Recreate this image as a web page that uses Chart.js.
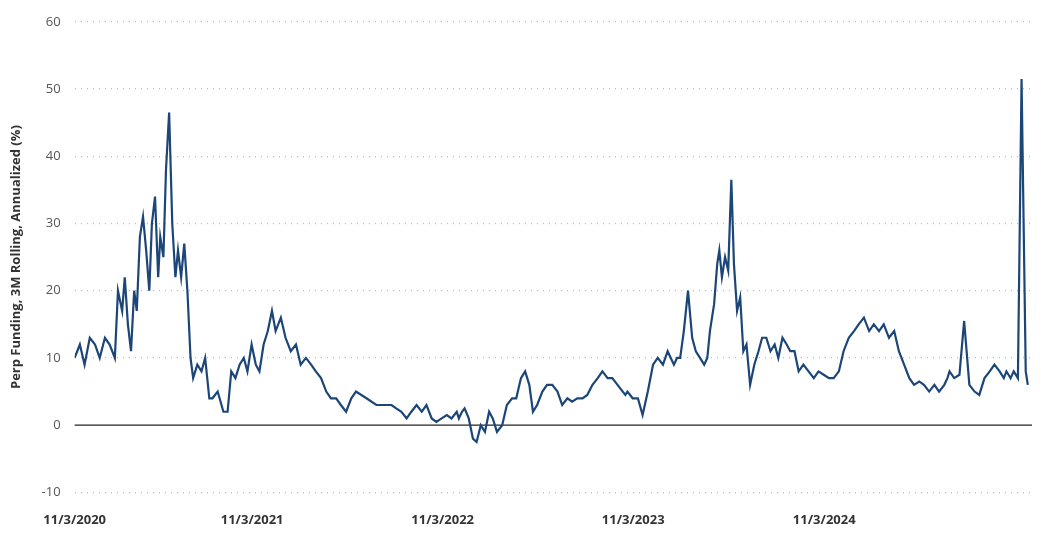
<!DOCTYPE html>
<html>
<head>
<meta charset="utf-8">
<script src="https://cdn.jsdelivr.net/npm/chart.js@4"></script>
<style>
  body { margin: 0; background: #fff; }
  #wrap { width: 1044px; height: 540px; }
</style>
</head>
<body>
<div id="wrap"><canvas id="perp"></canvas></div>
<script>
// days since 11/3/2020
const days = [25,35,44,54,64,73,83,92,102,108,116,121,127,133,139,144,150,156,162,168,173,179,185,189,195,200,206,212,218,223,229,235,241,247,252,260,268,275,283,289,299,310,318,325,333,341,349,356,364,372,379,387,395,403,410,420,429,439,449,458,468,478,487,497,507,516,526,535,545,555,564,584,603,612,622,632,641,651,661,670,680,690,699,709,718,728,738,747,757,761,767,772,780,788,795,803,811,819,826,834,844,853,863,871,874,880,888,896,903,911,921,930,940,950,959,969,978,988,998,1007,1017,1027,1036,1046,1055,1065,1075,1080,1084,1094,1104,1113,1123,1133,1142,1152,1161,1167,1173,1179,1185,1192,1200,1208,1215,1223,1231,1237,1242,1250,1256,1260,1265,1271,1277,1283,1288,1294,1300,1306,1312,1319,1327,1335,1342,1350,1358,1366,1373,1381,1389,1396,1404,1412,1421,1431,1441,1450,1460,1470,1479,1489,1498,1508,1518,1527,1537,1547,1556,1566,1575,1585,1595,1604,1614,1624,1633,1643,1652,1662,1672,1681,1691,1697,1701,1710,1720,1729,1739,1749,1758,1768,1778,1787,1797,1805,1810,1814,1818,1824,1832,1839,1847,1851];
const funding = [10,12,9,13,12,10,13,12,10,20,17,22,15,11,20,17,28,31,26,20,30,34,22,28,25,38,46.5,30,22,26,22,27,20,10,7,9,8,10,4,4,5,2,2,8,7,9,10,8,12,9,8,12,14,17,14,16,13,11,12,9,10,9,8,7,5,4,4,3,2,4,5,4,3,3,3,3,2.5,2,1,2,3,2,3,1,0.5,1,1.5,1,2,1,2,2.5,1,-2,-2.5,0,-1,2,1,-1,0,3,4,4,5,7,8,6,2,3,5,6,6,5,3,4,3.5,4,4,4.5,6,7,8,7,7,6,5,4.5,5,4,4,1.5,5,9,10,9,11,10,9,10,10,14,20,13,11,10,9,10,14,18,24,26,22,25,23,36.5,24,17,19,11,12,6,9,11,13,13,11,12,10,13,12,11,11,8,9,8,7,8,7.5,7,7,8,11,13,14,15,16,14,15,14,15,13,14,11,9,7,6,6.5,6,5,6,5,6,7,8,7,7.5,15.5,6,5,4.5,7,8,9,8,7,8,7.5,7,8,7,51.5,8,6,6.5,5,5,4];
const tickDays = [25,365,730,1095,1461];
const tickLabels = ["11/3/2020","11/3/2021","11/3/2022","11/3/2023","11/3/2024"];

const points = days.map((d, i) => ({ x: d, y: funding[i] }));

const zeroLine = {
  id: "zeroLine",
  beforeDatasetsDraw(chart) {
    const y = chart.scales.y.getPixelForValue(0);
    const a = chart.chartArea;
    const ctx = chart.ctx;
    ctx.save();
    ctx.strokeStyle = "#222";
    ctx.lineWidth = 1.2;
    ctx.beginPath();
    ctx.moveTo(a.left, y);
    ctx.lineTo(a.right, y);
    ctx.stroke();
    ctx.restore();
  }
};

new Chart("perp", {
  type: "line",
  data: {
    datasets: [{
      data: points,
      borderColor: "#1c4578",
      borderWidth: 2.2,
      pointRadius: 0,
      tension: 0
    }]
  },
  options: {
    responsive: true,
    maintainAspectRatio: false,
    animation: false,
    layout: { padding: { top: 0, right: 12, left: 4, bottom: 0 } },
    plugins: { legend: { display: false }, tooltip: { enabled: false } },
    scales: {
      x: {
        type: "linear",
        min: 25,
        max: 1859,
        afterBuildTicks: (axis) => { axis.ticks = tickDays.map(v => ({ value: v })); },
        ticks: {
          autoSkip: false,
          maxRotation: 0,
          padding: 12,
          color: "#333",
          font: { family: "Open Sans", size: 13, weight: "bold" },
          callback: (v) => tickLabels[tickDays.indexOf(v)]
        },
        grid: { display: false },
        border: { display: false }
      },
      y: {
        min: -10,
        max: 60,
        ticks: {
          stepSize: 10,
          padding: 14,
          color: "#555",
          font: { family: "Open Sans", size: 13 }
        },
        grid: {
          color: (c) => c.tick.value === 0 ? "rgba(0,0,0,0)" : "#bbb",
          lineWidth: 1.2,
          drawTicks: false
        },
        border: { display: false, dash: [1, 5] },
        title: {
          display: true,
          text: "Perp Funding, 3M Rolling, Annualized (%)",
          color: "#333",
          font: { family: "Open Sans", size: 13, weight: "bold" }
        }
      }
    }
  },
  plugins: [zeroLine]
});
</script>
</body>
</html>
